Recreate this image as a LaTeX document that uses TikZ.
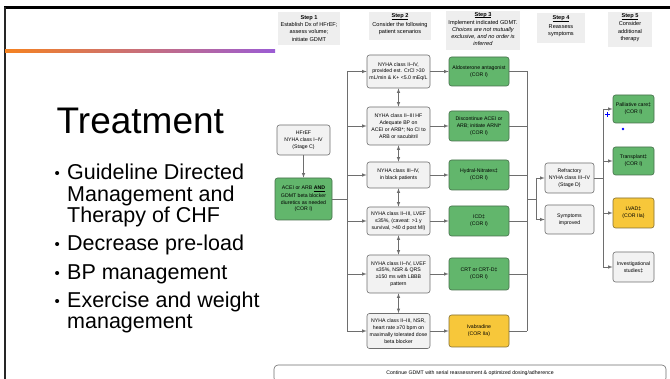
\documentclass[tikz,border=0pt]{standalone}
\usepackage{fontspec}
\setmainfont{Liberation Sans}
\usepackage{tikz}
\usetikzlibrary{arrows}
\usetikzlibrary{calc}

\definecolor{linegray}{RGB}{110,110,110}
\definecolor{boxgray}{RGB}{242,242,242}
\definecolor{headgray}{RGB}{238,238,238}
\definecolor{corgreen}{RGB}{98,182,108}
\definecolor{greenline}{RGB}{70,110,75}
\definecolor{coryellow}{RGB}{247,199,58}
\definecolor{yellowline}{RGB}{130,110,50}
\definecolor{slideorange}{RGB}{245,130,32}
\definecolor{slidepurple}{RGB}{155,92,212}

\newcommand{\ulword}[1]{\underline{\smash{#1}}}

\begin{document}
\begin{tikzpicture}[
  scen/.style={shape=rectangle, rounded corners=2.5pt, draw=linegray, fill=boxgray, line width=0.6pt, align=center, inner sep=0pt, font=\fontsize{5.2}{6.8}\selectfont},
  cori/.style={scen, fill=corgreen, draw=greenline},
  coriia/.style={scen, fill=coryellow, draw=yellowline},
  head/.style={shape=rectangle, fill=headgray, align=center, inner sep=0pt, font=\fontsize{5.6}{7.1}\selectfont},
  link/.style={draw=linegray, line width=0.6pt},
  arr/.style={link, ->, >=latex},
]
\useasboundingbox (0pt,0pt) rectangle (670pt,-379pt);
% slide frame
\draw[line width=2.5pt, black] (4pt,-7.5pt) -- (670pt,-7.5pt);
\draw[line width=1.5pt, black!85] (5pt,-7.5pt) -- (5pt,-379pt);
\shade[left color=slideorange, right color=slidepurple] (5pt,-50pt) rectangle (275pt,-52.5pt);

% left text
\node[anchor=base west, inner sep=0pt, font=\fontsize{37}{40}\selectfont] (title) at (56.5pt,-134pt) {Treatment};
\foreach \i/\y/\txt in {1/180/Guideline Directed, 2/201.5/Management and, 3/222.5/Therapy of CHF, 4/251/Decrease pre-load, 5/280/BP management, 6/308/Exercise and weight, 7/329/management}
  {\node[anchor=base west, inner sep=0pt, font=\fontsize{21.5}{22}\selectfont] (line\i) at (67pt, -\y*1pt) {\txt};}
\foreach \i/\y in {1/180, 4/251, 5/280, 6/308}
  {\node[anchor=base west, inner sep=0pt, font=\fontsize{15}{15}\selectfont] (bullet\i) at (54.5pt, -\y*1pt + 1.5pt) {•};}

% step headers
\node[head, minimum width=62pt, minimum height=33pt] (step1) at (309pt,-28.5pt) {\textbf{Step 1}\\Establish Dx of HFrEF;\\assess volume;\\initiate GDMT};
\node[head, minimum width=62pt, minimum height=28pt] (step2) at (400pt,-26pt) {\textbf{\ulword{Step 2}}\\[1.2pt]Consider the following\\patient scenarios};
\node[head, minimum width=74pt, minimum height=39pt] (step3) at (483pt,-31pt) {\textbf{\ulword{Step 3}}\\[1.2pt]Implement indicated GDMT.\\\textit{Choices are not mutually}\\\textit{exclusive, and no order is}\\\textit{inferred}};
\node[head, minimum width=48pt, minimum height=30pt] (step4) at (561pt,-28pt) {\textbf{\ulword{Step 4}}\\[1.2pt]Reassess\\symptoms};
\node[head, minimum width=44pt, minimum height=35pt] (step5) at (630pt,-29.5pt) {\textbf{\ulword{Step 5}}\\[1.2pt]Consider\\additional\\therapy};

% step 1
\node[scen, minimum width=53pt, minimum height=30pt] (hfref) at (303.5pt,-140pt) {HFrEF\\NYHA class I–IV\\(Stage C)};
\node[cori, minimum width=57pt, minimum height=42pt] (init) at (303.5pt,-199pt) {ACEI or ARB \textbf{\ulword{AND}}\\[0.8pt]GDMT beta blocker\\diuretics as needed\\(COR I)};

% step 2
\node[scen, minimum width=63pt, minimum height=33pt] (sa) at (398.5pt,-71.5pt) {NYHA class II–IV,\\provided est. CrCl >30\\mL/min \& K+ <5.0 mEq/L};
\node[scen, minimum width=63pt, minimum height=38pt] (sb) at (398.5pt,-126pt) {NYHA class II–III HF\\Adequate BP on\\ACEI or ARB*; No CI to\\ARB or sacubitril};
\node[scen, minimum width=63pt, minimum height=26pt] (sc) at (398.5pt,-175pt) {NYHA class III–IV,\\in black patients};
\node[scen, minimum width=63pt, minimum height=28pt] (sd) at (398.5pt,-221pt) {NYHA class II–III, LVEF\\≤35\%, (caveat: >1 y\\survival, >40 d post MI)};
\node[scen, minimum width=63pt, minimum height=38pt] (se) at (398.5pt,-274pt) {NYHA class II–IV, LVEF\\≤35\%, NSR \& QRS\\≥150 ms with LBBB\\pattern};
\node[scen, minimum width=63pt, minimum height=35pt] (sf) at (398.5pt,-331pt) {NYHA class II–III, NSR,\\heart rate ≥70 bpm on\\maximally tolerated dose\\beta blocker};

% step 3
\node[cori, minimum width=60pt, minimum height=29pt] (ta) at (479pt,-71.5pt) {Aldosterone antagonist\\(COR I)};
\node[cori, minimum width=60pt, minimum height=30pt] (tb) at (479pt,-126pt) {Discontinue ACEI or\\ARB; initiate ARNI*\\(COR I)};
\node[cori, minimum width=60pt, minimum height=30pt] (tc) at (479pt,-175pt) {Hydral-Nitrates‡\\(COR I)};
\node[cori, minimum width=60pt, minimum height=30pt] (td) at (479pt,-221pt) {ICD‡\\(COR I)};
\node[cori, minimum width=60pt, minimum height=32pt] (te) at (479pt,-274pt) {CRT or CRT-D‡\\(COR I)};
\node[coriia, minimum width=60pt, minimum height=32pt] (tf) at (479pt,-331pt) {Ivabradine\\(COR IIa)};

% step 4
\node[scen, minimum width=49pt, minimum height=30pt] (refr) at (569.5pt,-178pt) {Refractory\\NYHA class III–IV\\(Stage D)};
\node[scen, minimum width=49pt, minimum height=29pt] (symp) at (569.5pt,-219.5pt) {Symptoms\\improved};

% step 5
\node[cori, minimum width=41pt, minimum height=28pt] (pall) at (633.5pt,-109pt) {Palliative care‡\\(COR I)};
\node[cori, minimum width=41pt, minimum height=28pt] (trans) at (633.5pt,-161pt) {Transplant‡\\(COR I)};
\node[coriia, minimum width=41pt, minimum height=30pt] (lvad) at (633.5pt,-213pt) {LVAD‡\\(COR IIa)};
\node[scen, minimum width=41pt, minimum height=30pt] (invest) at (633.5pt,-267pt) {Investigational\\studies‡};

\node[scen, fill=white, rounded corners=4pt, minimum width=392pt, minimum height=17pt] (cont) at (470pt,-373.5pt) {Continue GDMT with serial reassessment \& optimized dosing/adherence};

% connectors
\coordinate (bus1) at (347pt,-199pt);
\coordinate (bus2) at (527pt,-199pt);
\coordinate (fork) at (536pt,-199pt);
\coordinate (bus3) at (603pt,-178pt);
\draw[arr] (hfref) -- (init);
\draw[link] (init.east) -- (bus1);
\draw[link] (sa.west -| bus1) -- (sf.west -| bus1);
\foreach \s in {sa,sb,sc,sd,se,sf}
  {\draw[arr] (\s.west -| bus1) -- (\s.west);}
\foreach \a/\b in {sa/sb, sb/sc, sc/sd, sd/se, se/sf}
  {\draw[link, <->, >=latex] (\a) -- (\b);}
\foreach \s/\t in {sa/ta, sb/tb, sc/tc, sd/td, se/te, sf/tf}
  {\draw[arr] (\s) -- (\t);
   \draw[link] (\t.east) -- (\t.east -| bus2);}
\draw[link] (ta.east -| bus2) -- (tf.east -| bus2);
\draw[link] (bus2) -- (fork);
\draw[link] (refr.west -| fork) -- (symp.west -| fork);
\draw[arr] (refr.west -| fork) -- (refr.west);
\draw[arr] (symp.west -| fork) -- (symp.west);
\draw[link] (refr.east) -- (bus3);
\draw[link] (pall.west -| bus3) -- (invest.west -| bus3);
\foreach \t in {pall,trans,lvad,invest}
  {\draw[arr] (\t.west -| bus3) -- (\t.west);}

% cursor marks
\draw[blue, line width=0.6pt] (605pt,-114.5pt) -- (610pt,-114.5pt) (607.5pt,-112pt) -- (607.5pt,-117pt);
\fill[blue] (623pt,-129pt) circle (1.4pt);
\end{tikzpicture}
\end{document}
